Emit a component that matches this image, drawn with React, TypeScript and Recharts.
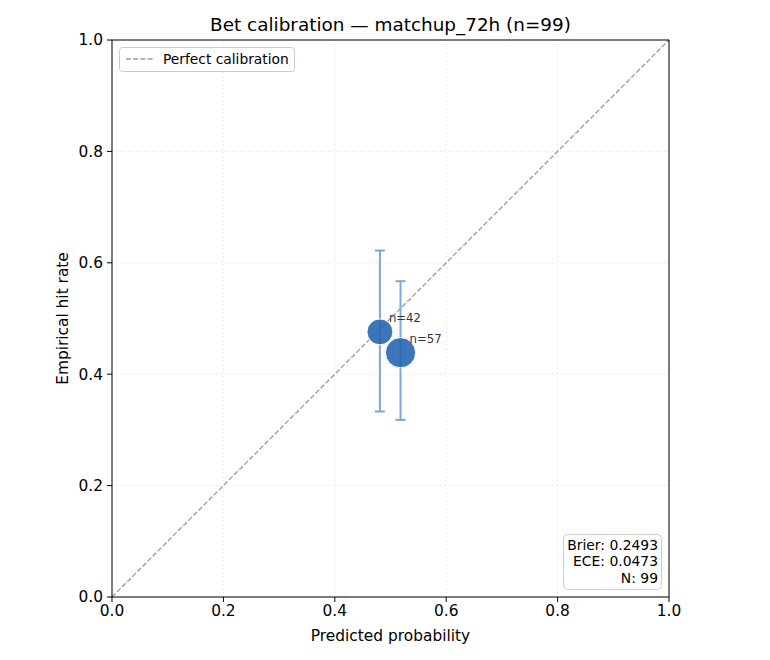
import React from 'react';
import {
  ScatterChart,
  Scatter,
  XAxis,
  YAxis,
  CartesianGrid,
  ReferenceLine,
  ErrorBar,
} from 'recharts';

// Calibration bins: mean predicted probability, observed hit rate, count, Wilson CI
const binPredicted = [0.481, 0.518];
const binHitRate = [0.476, 0.4386];
const binCounts = [42, 57];
const ciLow = [0.333, 0.318];
const ciHigh = [0.622, 0.567];

const axisTicks = [0, 0.2, 0.4, 0.6, 0.8, 1.0];
const statLines = ['Brier: 0.2493', 'ECE: 0.0473', 'N: 99'];
const titleText = 'Bet calibration — matchup_72h (n=99)';
const legendLabel = 'Perfect calibration';
const xLabel = 'Predicted probability';
const yLabel = 'Empirical hit rate';

const data = binPredicted.map((x, i) => ({
  x,
  y: binHitRate[i],
  n: binCounts[i],
  err: [binHitRate[i] - ciLow[i], ciHigh[i] - binHitRate[i]],
}));

const FONT = '"DejaVu Sans", sans-serif';
const W = 770;
const H = 660;
const PLOT = { left: 112, right: 669, top: 40, bottom: 597 };
// marker area grows with the bin count
const RADIUS_PER_SQRT_N = 2.0;

const BinMarker = (props: any) => {
  const { cx, cy, payload } = props;
  const r = Math.sqrt(payload.n) * RADIUS_PER_SQRT_N;
  return (
    <g>
      <circle cx={cx} cy={cy} r={r} fill="#2766b3" fillOpacity={0.9} stroke="#ffffff" strokeWidth={1} />
      <text x={cx + 9} y={cy - 10} fontSize={11.7} fill="#333333" fontFamily={FONT}>
        {`n=${payload.n}`}
      </text>
    </g>
  );
};

export default function App() {
  const fmt = (v: number) => v.toFixed(1);
  const tickStyle = { fill: '#000000', fontSize: 15.4, fontFamily: FONT };
  return (
    <div style={{ position: 'absolute', left: 0, top: 0, width: W, height: H, background: '#fff' }}>
      <ScatterChart
        width={W}
        height={H}
        margin={{ top: PLOT.top, right: W - PLOT.right, bottom: 0, left: 0 }}
      >
        <CartesianGrid stroke="#dddddd" strokeDasharray="1.5 2.5" strokeWidth={0.8} />
        <XAxis
          type="number"
          dataKey="x"
          domain={[0, 1]}
          ticks={axisTicks}
          tickFormatter={fmt}
          allowDataOverflow
          height={H - PLOT.bottom}
          tick={tickStyle}
          tickSize={5}
          tickMargin={3}
          axisLine={{ stroke: '#000000', strokeWidth: 1 }}
          tickLine={{ stroke: '#000000', strokeWidth: 1 }}
        />
        <YAxis
          type="number"
          dataKey="y"
          domain={[0, 1]}
          ticks={axisTicks}
          tickFormatter={fmt}
          allowDataOverflow
          width={PLOT.left}
          tick={tickStyle}
          tickSize={5}
          tickMargin={4}
          axisLine={{ stroke: '#000000', strokeWidth: 1 }}
          tickLine={{ stroke: '#000000', strokeWidth: 1 }}
        />
        <ReferenceLine
          segment={[{ x: 0, y: 0 }, { x: 1, y: 1 }]}
          stroke="#999999"
          strokeWidth={1.3}
          strokeDasharray="5 2.2"
        />
        <ReferenceLine y={1} stroke="#000000" strokeWidth={1} />
        <ReferenceLine x={1} stroke="#000000" strokeWidth={1} />
        <Scatter data={data} shape={<BinMarker />} isAnimationActive={false}>
          <ErrorBar
            dataKey="err"
            direction="y"
            width={5}
            stroke="#7fa7d6"
            strokeWidth={2}
          />
        </Scatter>
      </ScatterChart>
      <svg
        width={W}
        height={H}
        style={{ position: 'absolute', left: 0, top: 0, pointerEvents: 'none' }}
        fontFamily={FONT}
      >
        <text x={(PLOT.left + PLOT.right) / 2} y={31} textAnchor="middle" fontSize={18.4} fill="#000">
          {titleText}
        </text>
        <text x={(PLOT.left + PLOT.right) / 2} y={641} textAnchor="middle" fontSize={15.4} fill="#000">
          {xLabel}
        </text>
        <text
          x={68}
          y={318.5}
          textAnchor="middle"
          fontSize={15.4}
          fill="#000"
          transform="rotate(-90, 68, 318.5)"
        >
          {yLabel}
        </text>
        {/* legend */}
        <rect x={119.5} y={47.5} width={175} height={24} rx={3} fill="#ffffff" fillOpacity={0.8} stroke="#cccccc" />
        <line x1={126} y1={59} x2={154} y2={59} stroke="#999999" strokeWidth={1.3} strokeDasharray="5 2.2" />
        <text x={163} y={63.5} fontSize={13.8} fill="#000">
          {legendLabel}
        </text>
        {/* summary stats box */}
        <rect x={563.5} y={534.5} width={98} height={55} rx={4} fill="#ffffff" fillOpacity={0.8} stroke="#cccccc" />
        {statLines.map((s, i) => (
          <text key={s} x={658} y={550 + i * 16.3} textAnchor="end" fontSize={13.9} fill="#000">
            {s}
          </text>
        ))}
      </svg>
    </div>
  );
}
